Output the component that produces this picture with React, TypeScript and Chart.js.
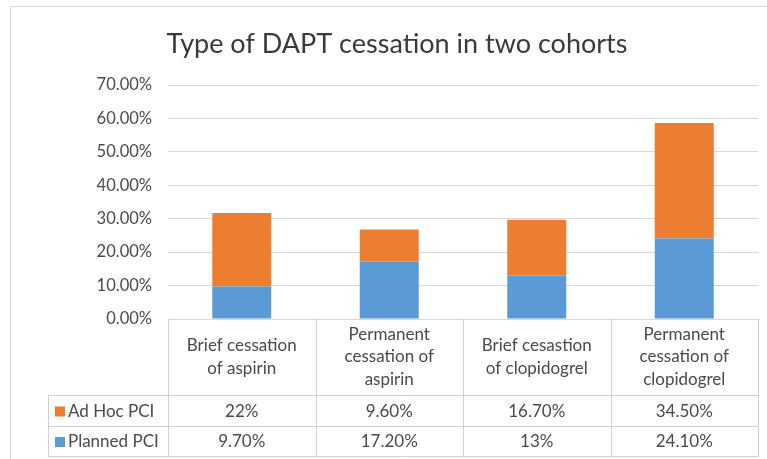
import React, { useEffect, useRef } from "react";
import { Chart, registerables } from "chart.js";

Chart.register(...registerables);

const title = "Type of DAPT cessation in two cohorts";
const categories: string[][] = [
  ["Brief cessation", "of aspirin"],
  ["Permanent", "cessation of", "aspirin"],
  ["Brief cesastion", "of clopidogrel"],
  ["Permanent", "cessation of", "clopidogrel"],
];
const seriesNames = ["Planned PCI", "Ad Hoc PCI"];
const plannedValues = [9.7, 17.2, 13, 24.1];
const adHocValues = [22, 9.6, 16.7, 34.5];
const plannedLabels = ["9.70%", "17.20%", "13%", "24.10%"];
const adHocLabels = ["22%", "9.60%", "16.70%", "34.50%"];
const yMin = 0;
const yMax = 70;
const yStep = 10;

const BLUE = "#5B9BD5";
const ORANGE = "#ED7D31";
const TEXT = "#4A4A4A";
const GRID = "#D9D9D9";
const TABLE_LINE = "#D0D0D0";
const FONT = "Lato, 'Open Sans', sans-serif";

const tablePlugin = {
  id: "dataTable",
  afterDraw(chart: any) {
    const ctx = chart.ctx as CanvasRenderingContext2D;
    const area = chart.chartArea;
    const n = categories.length;
    const cw = (area.right - area.left) / n;
    const top = area.bottom;
    const headerBottom = 395;
    const row1Bottom = 426;
    const row2Bottom = 456;
    const legendLeft = 48;

    ctx.save();
    // outer frame
    ctx.strokeStyle = GRID;
    ctx.lineWidth = 1;
    ctx.beginPath();
    ctx.moveTo(10.5, 470);
    ctx.lineTo(10.5, 6.5);
    ctx.lineTo(780, 6.5);
    ctx.stroke();

    // title
    ctx.fillStyle = "#3A3A3A";
    ctx.font = `27px ${FONT}`;
    ctx.textAlign = "center";
    ctx.textBaseline = "middle";
    ctx.fillText(title, 397, 44);

    // table lines
    ctx.strokeStyle = TABLE_LINE;
    ctx.beginPath();
    for (let i = 0; i <= n; i++) {
      const x = Math.round(area.left + i * cw) + 0.5;
      ctx.moveTo(x, top);
      ctx.lineTo(x, row2Bottom);
    }
    ctx.moveTo(legendLeft + 0.5, headerBottom);
    ctx.lineTo(legendLeft + 0.5, row2Bottom);
    [headerBottom, row1Bottom, row2Bottom].forEach((y) => {
      ctx.moveTo(legendLeft, y + 0.5);
      ctx.lineTo(area.right + 1, y + 0.5);
    });
    ctx.stroke();

    // header labels
    ctx.fillStyle = TEXT;
    ctx.font = `17px ${FONT}`;
    ctx.textAlign = "center";
    ctx.textBaseline = "middle";
    const lh = 22.5;
    categories.forEach((lines, i) => {
      const cx = area.left + (i + 0.5) * cw;
      const cy = (top + headerBottom) / 2;
      const start = cy - ((lines.length - 1) * lh) / 2;
      lines.forEach((l, j) => ctx.fillText(l, cx, start + j * lh));
    });

    // rows
    const rows = [
      { name: seriesNames[1], color: ORANGE, labels: adHocLabels, y0: headerBottom, y1: row1Bottom },
      { name: seriesNames[0], color: BLUE, labels: plannedLabels, y0: row1Bottom, y1: row2Bottom },
    ];
    rows.forEach((r) => {
      const cy = (r.y0 + r.y1) / 2 + 1;
      ctx.fillStyle = r.color;
      ctx.fillRect(legendLeft + 7, cy - 5, 10, 10);
      ctx.fillStyle = TEXT;
      ctx.textAlign = "left";
      ctx.fillText(r.name, legendLeft + 20, cy);
      ctx.textAlign = "center";
      r.labels.forEach((t, i) => {
        ctx.fillText(t, area.left + (i + 0.5) * cw, cy);
      });
    });
    ctx.restore();
  },
};

export default function App() {
  const ref = useRef<HTMLCanvasElement | null>(null);
  useEffect(() => {
    if (!ref.current) return;
    const chart = new Chart(ref.current, {
      type: "bar",
      data: {
        labels: categories.map((c) => c.join(" ")),
        datasets: [
          {
            label: seriesNames[0],
            data: plannedValues,
            backgroundColor: BLUE,
            barPercentage: 0.4,
            categoryPercentage: 1,
          },
          {
            label: seriesNames[1],
            data: adHocValues,
            backgroundColor: ORANGE,
            barPercentage: 0.4,
            categoryPercentage: 1,
          },
        ],
      },
      options: {
        responsive: false,
        animation: false,
        layout: { padding: { top: 85, left: 12, right: 9, bottom: 140 } },
        plugins: {
          legend: { display: false },
          title: { display: false },
          tooltip: { enabled: false },
        },
        scales: {
          x: { stacked: true, display: false },
          y: {
            stacked: true,
            min: yMin,
            max: yMax,
            border: { display: false },
            grid: { color: GRID, drawTicks: false },
            ticks: {
              stepSize: yStep,
              padding: 16,
              color: TEXT,
              font: { family: FONT, size: 16.5 },
              callback: (v: any) => Number(v).toFixed(2) + "%",
            },
            afterFit: (s: any) => {
              s.width = 156;
            },
          },
        },
      },
      plugins: [tablePlugin],
    });
    return () => chart.destroy();
  }, []);
  return (
    <div style={{ position: "absolute", left: 0, top: 0, width: 767, height: 459, background: "#fff" }}>
      <canvas ref={ref} width={767} height={459} style={{ width: 767, height: 459 }} />
    </div>
  );
}
